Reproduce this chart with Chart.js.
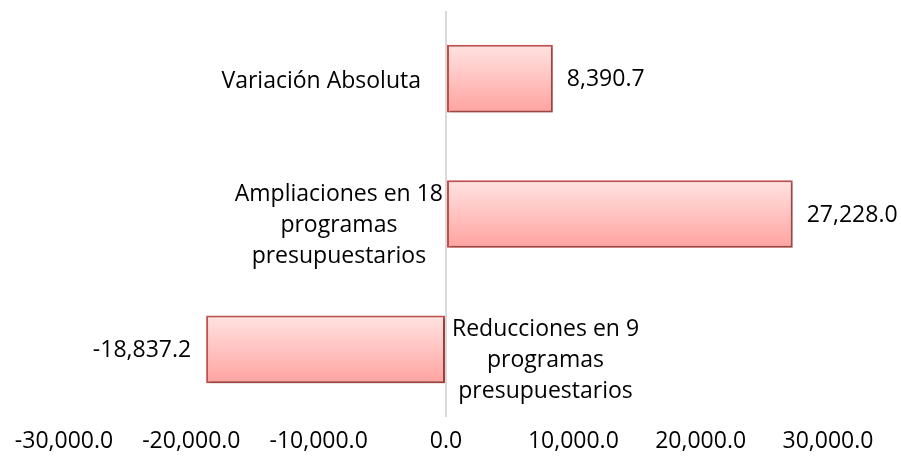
<!DOCTYPE html>
<html>
<head>
<meta charset="utf-8">
<script src="https://cdn.jsdelivr.net/npm/chart.js@4/dist/chart.umd.min.js"></script>
<style>
html,body{margin:0;padding:0;background:#fff;}
#wrap{width:901px;height:463px;}
</style>
</head>
<body>
<div id="wrap"><canvas id="c" width="901" height="463"></canvas></div>
<script>
const categories = [
  ["Variación Absoluta"],
  ["Ampliaciones en 18", "programas", "presupuestarios"],
  ["Reducciones en 9", "programas", "presupuestarios"]
];
const values = [8390.7, 27228.0, -18837.2];
const xTicks = [-30000, -20000, -10000, 0, 10000, 20000, 30000];

const FONT = "'Open Sans', Lato, sans-serif";
const FSIZE = 23;
const fmt = v => v.toLocaleString('en-US', {minimumFractionDigits: 1, maximumFractionDigits: 1});

function barGradient(ctx) {
  const chart = ctx.chart;
  if (!chart.chartArea) return '#ffc0bd';
  const y = chart.scales.y;
  const c = y.getPixelForValue(ctx.dataIndex);
  const h = (y.height / categories.length) * 0.5;
  const g = chart.ctx.createLinearGradient(0, c - h / 2, 0, c + h / 2);
  g.addColorStop(0, '#ffe3e1');
  g.addColorStop(1, '#ffa3a0');
  return g;
}

const labelPlugin = {
  id: 'labels',
  beforeDatasetsDraw(chart) {
    const ctx = chart.ctx;
    ctx.save();
    ctx.shadowColor = 'rgba(0,0,0,0.25)';
    ctx.shadowOffsetX = 1.5;
    ctx.shadowOffsetY = 1.5;
    ctx.shadowBlur = 2;
  },
  afterDatasetsDraw(chart) {
    const ctx = chart.ctx;
    ctx.restore();
    const xs = chart.scales.x, ys = chart.scales.y;
    const zero = xs.getPixelForValue(0);
    const lh = 31;
    ctx.save();
    ctx.font = FSIZE + 'px ' + FONT;
    ctx.fillStyle = '#000';
    ctx.textBaseline = 'middle';
    const meta = chart.getDatasetMeta(0);
    values.forEach((v, i) => {
      const cy = ys.getPixelForValue(i);
      const bar = meta.data[i];
      if (v >= 0) {
        ctx.textAlign = 'left';
        ctx.fillText(fmt(v), bar.x + 14, cy + 1);
      } else {
        ctx.textAlign = 'right';
        ctx.fillText(fmt(v), bar.x - 15, cy + 1);
      }
      const lines = categories[i];
      const w = Math.max(...lines.map(l => ctx.measureText(l).width));
      let center;
      if (v >= 0) {
        const gap = lines.length > 1 ? 3 : 25;
        center = zero - gap - w / 2;
      } else {
        center = zero + 6 + w / 2;
      }
      ctx.textAlign = 'center';
      const shift = lines.length > 1 ? 11 : 3;
      const top = cy + shift - (lines.length - 1) * lh / 2;
      lines.forEach((l, k) => ctx.fillText(l, center, top + k * lh));
    });
    ctx.restore();
  }
};

new Chart(document.getElementById('c'), {
  type: 'bar',
  data: {
    labels: categories.map(c => c.join(' ')),
    datasets: [{
      data: values,
      backgroundColor: barGradient,
      borderColor: '#c0504d',
      borderWidth: 2,
      borderSkipped: false,
      barPercentage: 0.5,
      categoryPercentage: 1.0
    }]
  },
  options: {
    indexAxis: 'y',
    responsive: false,
    animation: false,
    layout: {padding: {left: 64, right: 73, top: 11, bottom: 10}},
    plugins: {legend: {display: false}, tooltip: {enabled: false}},
    scales: {
      x: {
        min: -30000, max: 30000,
        afterBuildTicks(scale) { scale.ticks = xTicks.map(v => ({value: v})); },
        afterFit(scale) { scale.height = 36; },
        ticks: {
          callback: v => fmt(v),
          color: '#000',
          font: {family: FONT, size: FSIZE},
          padding: 11,
          maxRotation: 0,
          autoSkip: false
        },
        grid: {
          drawTicks: false,
          color: c => (c.tick && c.tick.value === 0) ? '#d9d9d9' : 'rgba(0,0,0,0)',
          lineWidth: 2
        },
        border: {display: false}
      },
      y: {display: false}
    }
  },
  plugins: [labelPlugin]
});
</script>
</body>
</html>
